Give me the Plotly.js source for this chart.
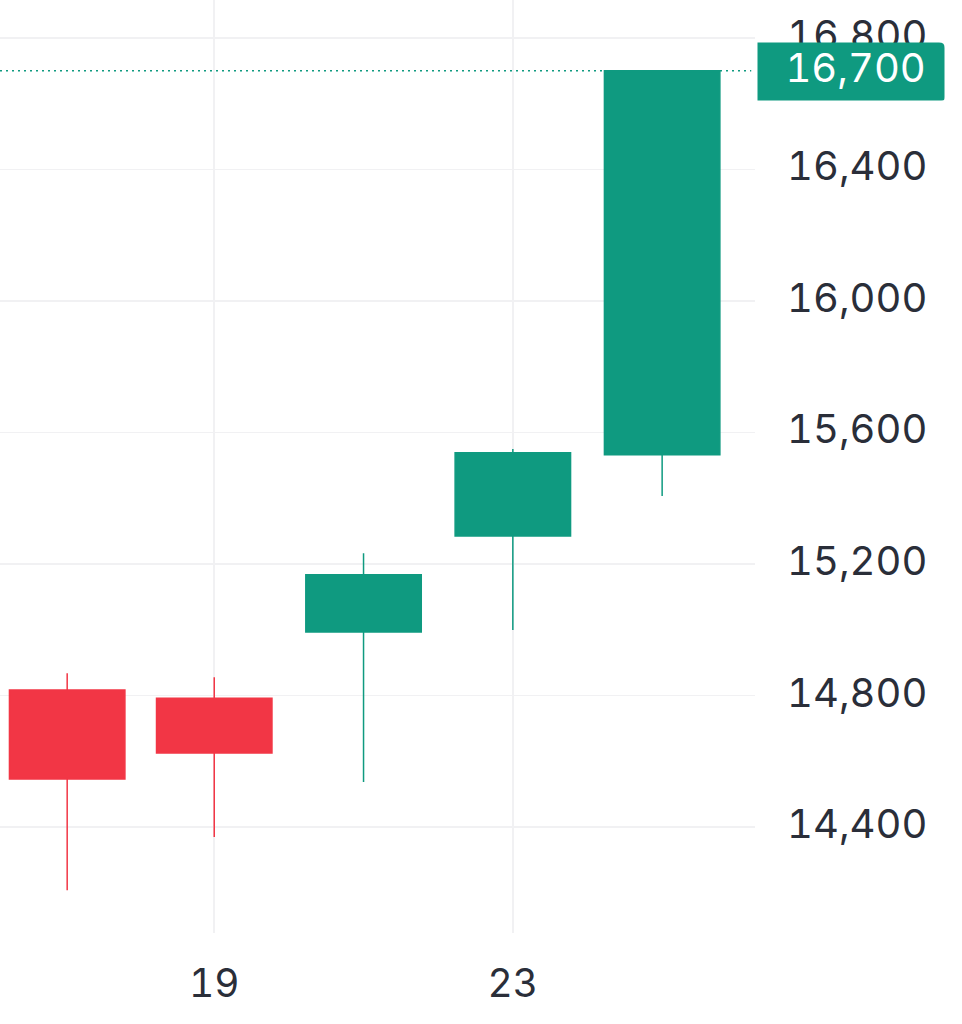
<!DOCTYPE html>
<html>
<head>
<meta charset="utf-8">
<script src="https://cdn.plot.ly/plotly-3.0.1.min.js"></script>
<style>
html,body{margin:0;padding:0;background:#fff}
#c{width:962px;height:1024px}
#c text{font-variant-numeric:tabular-nums;font-feature-settings:"tnum" 1}
#c .yaxislayer-above{transform:translateY(-3px)}
#c .annotation rect.bg{clip-path:inset(0 round 0 6px 4px 0)}
</style>
</head>
<body>
<div id="c"></div>
<script>
const periods = [17.03, 19, 21, 23, 25];
const openPrices = [14817, 14792, 14993, 15285, 15532];
const highPrices = [14868, 14856, 15233, 15550, 16700];
const lowPrices = [14208, 14370, 14537, 14999, 15407];
const closePrices = [14546, 14625, 15167, 15538, 16700];
const xTicks = [19, 23];
const yTicks = [14400, 14800, 15200, 15600, 16000, 16400, 16800];
const lastPrice = 16700;
const lastLabel = '16,700';

const GREEN = '#0f9a80', RED = '#f23645', GRID = '#f1f1f3', TEXT = '#2a2e39';
const FONT = 'Inter, "Liberation Sans", sans-serif';

Plotly.newPlot('c', [{
  type: 'candlestick',
  x: periods, open: openPrices, high: highPrices, low: lowPrices, close: closePrices,
  whiskerwidth: 0,
  increasing: {line: {color: GREEN, width: 1.5}, fillcolor: GREEN},
  decreasing: {line: {color: RED, width: 1.5}, fillcolor: RED},
  hoverinfo: 'skip'
}], {
  width: 962, height: 1024,
  margin: {l: 0, r: 207, t: 0, b: 91, pad: 0},
  paper_bgcolor: '#ffffff', plot_bgcolor: '#ffffff',
  showlegend: false,
  boxgap: 0.215, boxgroupgap: 0,
  font: {family: FONT, color: TEXT},
  xaxis: {
    type: 'linear', range: [16.13, 26.244], fixedrange: true,
    rangeslider: {visible: false},
    tickmode: 'array', tickvals: xTicks, ticktext: xTicks.map(String),
    showgrid: true, gridcolor: GRID, gridwidth: 1.5, zeroline: false, showline: false,
    ticks: '', ticklabelstandoff: 24,
    tickfont: {size: 39, family: FONT, color: TEXT}
  },
  yaxis: {
    side: 'right', range: [14078, 16915], fixedrange: true,
    tickmode: 'array', tickvals: yTicks, ticktext: yTicks.map(v => v.toLocaleString('en-US')),
    showgrid: true, gridcolor: GRID, gridwidth: 1.5, zeroline: false, showline: false,
    ticks: '', ticklabelstandoff: 31,
    tickfont: {size: 40, family: FONT, color: TEXT}
  },
  shapes: [{
    type: 'line', xref: 'paper', x0: 0, x1: 0.995, yref: 'y', y0: lastPrice, y1: lastPrice,
    layer: 'below', line: {color: GREEN, width: 1.5, dash: '2px,4px'}
  }],
  annotations: [{
    xref: 'paper', x: 1, xanchor: 'left', xshift: 2,
    yref: 'y', y: lastPrice, yanchor: 'middle', yshift: -1, showarrow: false,
    text: ' ', width: 186, height: 57, borderpad: 0,
    bgcolor: GREEN, font: {size: 36, family: FONT, color: '#ffffff'}
  }, {
    xref: 'paper', x: 1, xanchor: 'left', xshift: 38,
    yref: 'y', y: lastPrice, yanchor: 'middle', yshift: 3, showarrow: false,
    text: lastLabel, borderpad: 0,
    font: {size: 40, family: FONT, color: '#ffffff'}
  }]
}, {staticPlot: true, displayModeBar: false});
</script>
</body>
</html>
